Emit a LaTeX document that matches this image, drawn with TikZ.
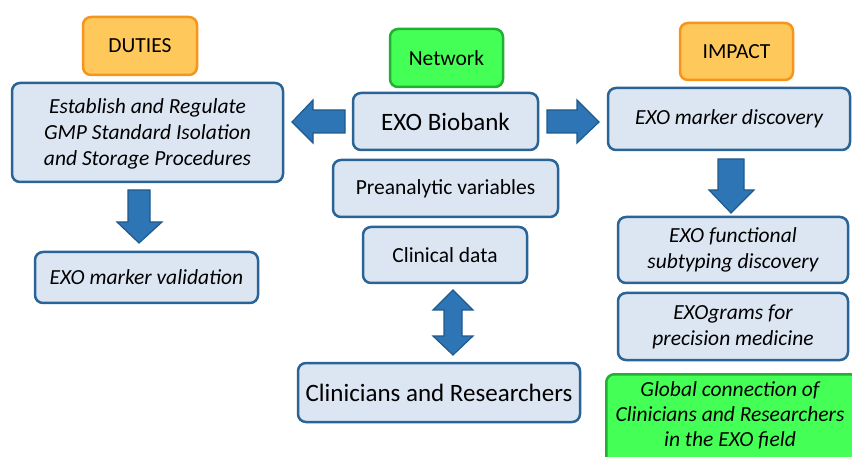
\documentclass[tikz,border=0pt]{standalone}
\usepackage{fontspec}
\setmainfont{Carlito}
\definecolor{boxfill}{HTML}{DCE6F2}
\definecolor{boxline}{HTML}{2A6496}
\definecolor{arrfill}{HTML}{2E75B6}
\definecolor{arrline}{HTML}{1F5A8C}
\definecolor{orfill}{HTML}{FFC85A}
\definecolor{orline}{HTML}{F7941D}
\definecolor{grfill}{HTML}{44FF55}
\definecolor{grline}{HTML}{22B033}
\tikzset{
  bx/.style={draw=boxline, fill=boxfill, line width=2.5pt, rounded corners=8pt, align=center, inner sep=2pt, font=\fontsize{21.5}{26}\selectfont},
  itx/.style={font=\fontsize{21.5}{26}\selectfont\itshape},
  bigx/.style={font=\fontsize{25}{30}\selectfont},
  orbox/.style={bx, draw=orline, fill=orfill},
  grbox/.style={bx, draw=grline, fill=grfill},
  blk/.style={draw=arrline, fill=arrfill, line width=1.2pt, line join=miter},
}
\begin{document}
\begin{tikzpicture}[x=1pt,y=-1pt]
\useasboundingbox (0,0) rectangle (852,457);
\clip (0,0) rectangle (852,457);
% left column
\node[orbox, minimum width=114pt, minimum height=58pt] (duties) at (140,46) {DUTIES};
\node[bx, itx, minimum width=271pt, minimum height=99pt, text depth=1pt] (establish) at (147.5,132.5) {Establish and Regulate\\GMP Standard Isolation\\and Storage Procedures};
\node[bx, itx, minimum width=223pt, minimum height=51pt] (validation) at (146.5,277.5) {EXO marker validation};
% middle column
\node[grbox, minimum width=113pt, minimum height=58pt] (network) at (446.5,58) {Network};
\node[bx, bigx, minimum width=185pt, minimum height=57pt] (biobank) at (445.5,121.5) {EXO Biobank};
\node[bx, minimum width=225pt, minimum height=57pt] (preanalytic) at (445.5,188.5) {Preanalytic variables};
\node[bx, minimum width=164pt, minimum height=56pt] (clinical) at (445,255) {Clinical data};
\node[bx, bigx, minimum width=282pt, minimum height=59pt] (clinres) at (439,392.5) {Clinicians and Researchers};
% right column
\node[orbox, minimum width=113pt, minimum height=57pt] (impact) at (736.5,51.5) {IMPACT};
\node[bx, itx, minimum width=242pt, minimum height=62pt] (discovery) at (729,119) {EXO marker discovery};
\node[bx, itx, minimum width=230pt, minimum height=66pt] (functional) at (733,250) {EXO functional\\subtyping discovery};
\node[bx, itx, minimum width=230pt, minimum height=67pt] (exograms) at (733,326.5) {EXOgrams for\\precision medicine};
\node[grbox, minimum width=252pt, minimum height=92pt, anchor=north west] (global) at (605,373) {};
\node[font=\fontsize{21.5}{25}\selectfont\itshape, align=center, anchor=north, inner sep=0pt] (globaltext) at (730,381) {Global connection of\\Clinicians and Researchers\\in the EXO field};
% block arrows
\draw[blk] (345,110) -- (313,110) -- (313,100) -- (292,122) -- (313,143) -- (313,133) -- (345,133) -- cycle;
\draw[blk] (547,110) -- (577,110) -- (577,100) -- (599,122) -- (577,143) -- (577,133) -- (547,133) -- cycle;
\draw[blk] (128,190) -- (150,190) -- (150,222) -- (162,222) -- (139,243) -- (117,222) -- (128,222) -- cycle;
\draw[blk] (718,159) -- (744,159) -- (744,190) -- (754,190) -- (731,213) -- (709,190) -- (718,190) -- cycle;
\draw[blk] (453,290) -- (473,310) -- (462,310) -- (462,336) -- (473,336) -- (453,355) -- (433,336) -- (444,336) -- (444,310) -- (433,310) -- cycle;
\end{tikzpicture}
\end{document}
